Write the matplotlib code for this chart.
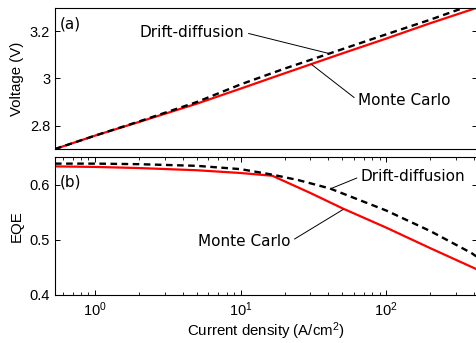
import numpy as np
import matplotlib
matplotlib.use("Agg")
import matplotlib.pyplot as plt

# voltage vs current density
j_v = [0.53, 1, 2, 5, 10, 20, 50, 100, 200, 415]
v_mc = [2.700, 2.757, 2.815, 2.893, 2.957, 3.022, 3.107, 3.170, 3.235, 3.300]
v_dd = [2.700, 2.757, 2.817, 2.900, 2.975, 3.042, 3.125, 3.188, 3.250, 3.320]

# EQE vs current density
j_mc = [0.53, 1, 2, 5, 10, 16.5, 30, 50, 100, 200, 415]
eqe_mc = [0.633, 0.632, 0.630, 0.626, 0.621, 0.616, 0.585, 0.557, 0.522, 0.485, 0.447]
j_dd = [0.53, 1, 2, 5, 10, 16.5, 25, 41, 100, 200, 385, 415]
eqe_dd = [0.638, 0.638, 0.637, 0.634, 0.628, 0.618, 0.608, 0.593, 0.553, 0.516, 0.476, 0.470]

tickfont = "Liberation Sans"
annfont = "DejaVu Sans"
plt.rcParams["mathtext.fontset"] = "custom"
plt.rcParams["mathtext.rm"] = tickfont
plt.rcParams["mathtext.it"] = tickfont

fig = plt.figure(figsize=(4.76, 3.43), dpi=100)
L, R = 55 / 476, 477 / 476
ax1 = fig.add_axes([L, 1 - 149 / 343, R - L, (149 - 8) / 343])
ax2 = fig.add_axes([L, 1 - 295 / 343, R - L, (295 - 157) / 343])

dd_style = dict(color="black", lw=1.7, ls=(0, (2.8, 1.9)))
mc_style = dict(color="#ff0000", lw=1.6)

ax1.plot(j_v, v_mc, **mc_style)
ax1.plot(j_v, v_dd, **dd_style)
ax2.plot(j_mc, eqe_mc, **mc_style)
ax2.plot(j_dd, eqe_dd, **dd_style)

for ax in (ax1, ax2):
    ax.set_xscale("log")
    ax.set_xlim(0.53, 420)
    ax.tick_params(which="both", direction="in", right=True, top=True,
                   labelsize=10.5)
    ax.tick_params(which="major", length=3.5, width=0.7)
    ax.tick_params(which="minor", length=2.2, width=0.6)

ax1.set_ylim(2.7, 3.3)
ax1.set_yticks([2.8, 3.0, 3.2])
ax1.set_yticklabels(["2.8", "3", "3.2"], fontfamily=tickfont, fontsize=10.5)
ax1.tick_params(axis="x", which="both", bottom=False, top=False,
                labelbottom=False)

ax2.set_ylim(0.4, 0.65)
ax2.set_yticks([0.4, 0.5, 0.6])
ax2.set_yticklabels(["0.4", "0.5", "0.6"], fontfamily=tickfont, fontsize=10.5)
ax2.set_xticks([1, 10, 100])
ax2.set_xticklabels(["$10^0$", "$10^1$", "$10^2$"], fontsize=10.5)
ax2.tick_params(axis="x", pad=4)

ax1.set_ylabel("Voltage (V)", fontfamily=tickfont, fontsize=10.8, labelpad=4)
ax2.set_ylabel("EQE", fontfamily=tickfont, fontsize=10.8, labelpad=4)
ax2.set_xlabel("Current density (A/cm$^2$)", fontfamily=tickfont,
               fontsize=10.8, labelpad=1)

ax1.text(0.012, 0.89, "(a)", transform=ax1.transAxes, fontfamily=annfont,
         fontsize=11, va="center")
ax2.text(0.012, 0.822, "(b)", transform=ax2.transAxes, fontfamily=annfont,
         fontsize=11, va="center")

line = dict(arrowstyle="-", color="black", lw=0.7, shrinkA=1, shrinkB=0)
ax1.annotate("Drift-diffusion", xy=(40.6, 3.106), xytext=(10.6, 3.196),
             ha="right", va="center", fontfamily=annfont, fontsize=11,
             arrowprops=dict(relpos=(1, 0.5), **line))
ax1.annotate("Monte Carlo", xy=(30.5, 3.061), xytext=(64, 2.906),
             ha="left", va="center", fontfamily=annfont, fontsize=11,
             arrowprops=dict(relpos=(0, 0.5), **line))
ax2.annotate("Drift-diffusion", xy=(41.9, 0.593), xytext=(67, 0.615),
             ha="left", va="center", fontfamily=annfont, fontsize=11,
             arrowprops=dict(relpos=(0, 0.5), **line))
ax2.annotate("Monte Carlo", xy=(50.6, 0.555), xytext=(22, 0.497),
             ha="right", va="center", fontfamily=annfont, fontsize=11,
             arrowprops=dict(relpos=(1, 0.5), **line))

fig.savefig("out.png", dpi=100)
